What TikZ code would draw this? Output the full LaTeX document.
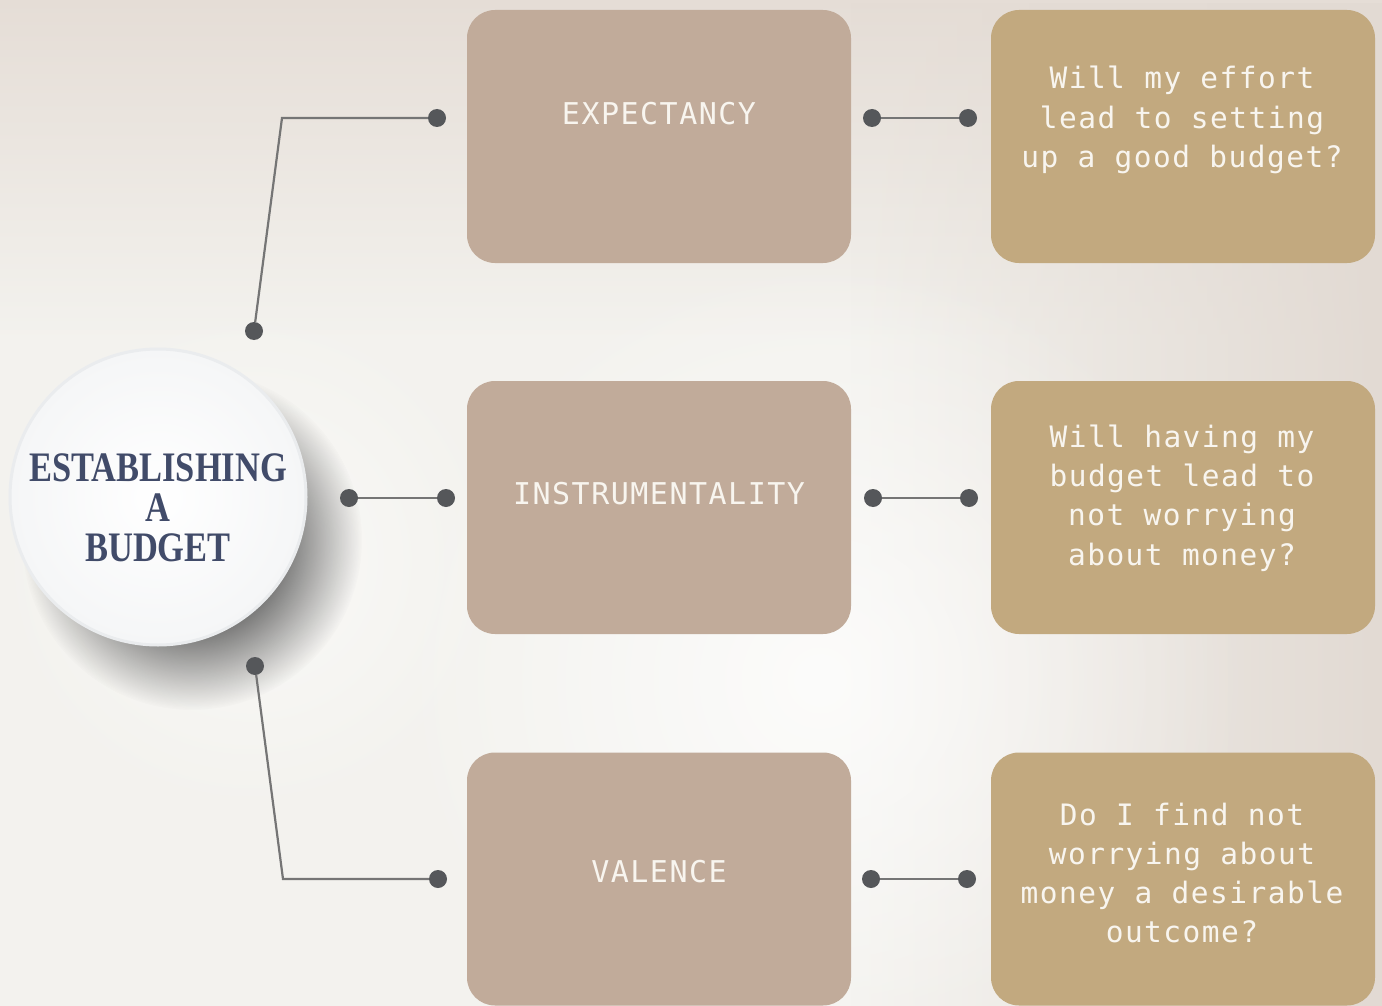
\documentclass[tikz,border=0pt]{standalone}
\usepackage{fontspec}
\setmainfont{Liberation Serif}
\newfontfamily\monof{DejaVu Sans Mono}[LetterSpace=5]
\usetikzlibrary{fadings}
\definecolor{bgtop}{HTML}{E5DDD6}
\definecolor{bgmid}{HTML}{F3F2EE}
\definecolor{bgright}{HTML}{E2DAD3}
\definecolor{midbox}{HTML}{C1AB9A}
\definecolor{rbox}{HTML}{C2A97F}
\definecolor{dotc}{HTML}{55575A}
\definecolor{linec}{HTML}{757575}
\definecolor{navy}{HTML}{414B69}
\definecolor{txtw}{HTML}{F8F5EF}
\definecolor{ringc}{HTML}{EAECEE}
\definecolor{hubin}{HTML}{FFFFFF}
\definecolor{hubout}{HTML}{F5F6F7}
\definecolor{shadowc}{HTML}{444444}
\pgfdeclareverticalshading{bgsh}{100bp}{color(0bp)=(bgmid); color(25bp)=(bgmid); color(58bp)=(bgmid); color(75bp)=(bgtop); color(100bp)=(bgtop)}
\pgfdeclareradialshading{shfadesh}{\pgfpoint{0bp}{0bp}}{color(0bp)=(white); color(14bp)=(white); color(25bp)=(black); color(50bp)=(black)}
\pgfdeclarefading{shfading}{\pgfuseshading{shfadesh}}
\tikzfading[name=fadefromleft, left color=transparent!100, right color=transparent!0]
\tikzfading[name=glowfade, inner color=transparent!0, outer color=transparent!100]
\tikzset{
  midboxst/.style={fill=midbox, rounded corners=28pt, minimum width=384pt, minimum height=253pt, inner sep=0pt},
  rboxst/.style={fill=rbox, rounded corners=28pt, minimum width=384pt, minimum height=253pt, inner sep=0pt},
  lbl/.style={text=txtw, font=\monof\fontsize{30}{39}\selectfont, inner sep=0pt},
  qtxt/.style={text=txtw, font=\monof\fontsize{29.5}{39.2}\selectfont, align=center, inner sep=0pt},
  dotst/.style={circle, fill=dotc, minimum size=18pt, inner sep=0pt},
  conn/.style={draw=linec, line width=2.2pt},
}
\begin{document}
\begin{tikzpicture}[x=1pt,y=-1pt]
\useasboundingbox (0,0) rectangle (1382,1006);
% background
\fill[shading=bgsh] (0,0) rectangle (1382,1006);
\fill[bgright, path fading=fadefromleft] (850,0) rectangle (1382,1006);
\fill[white, opacity=0.75, path fading=glowfade] (820,680) circle (430pt);
\fill[white, opacity=0.6, path fading=glowfade] (250,560) circle (260pt);
% hub shadow
\fill[shadowc, opacity=0.68, path fading=shfading] (192,540) circle (170pt);
% hub
\node[circle, minimum size=296pt, inner sep=0pt, draw=ringc, line width=3pt, inner color=hubin, outer color=hubout] (hub) at (158,497) {};
\node[text=navy, align=center, inner sep=0pt, font=\bfseries\fontsize{42}{40}\selectfont] (title) at (158,508)
  {\scalebox{0.82}[1]{ESTABLISHING}\\\scalebox{0.82}[1]{A}\\\scalebox{0.82}[1]{BUDGET}};
% boxes
\node[midboxst] (exp) at (659,136.5) {};
\node[midboxst] (ins) at (659,507.5) {};
\node[midboxst] (val) at (659,879) {};
\node[rboxst] (q1) at (1183,136.5) {};
\node[rboxst] (q2) at (1183,507.5) {};
\node[rboxst] (q3) at (1183,879) {};
% labels
\node[lbl, anchor=base] (lexp) at (659,125) {EXPECTANCY};
\node[lbl, anchor=base] (lins) at (659,504) {INSTRUMENTALITY};
\node[lbl, anchor=base] (lval) at (659,882) {VALENCE};
\node[qtxt] (t1) at (1182,120) {Will my effort\\lead to setting\\up a good budget?};
\node[qtxt] (t2) at (1182,498) {Will having my\\budget lead to\\not worrying\\about money?};
\node[qtxt] (t3) at (1182,873) {Do I find not\\worrying about\\money a desirable\\outcome?};
% dots
\node[dotst] (dTa) at (437,118) {};
\node[dotst] (dTb) at (254,331) {};
\coordinate (cT) at (282,118);
\node[dotst] (dMa) at (349,498) {};
\node[dotst] (dMb) at (446,498) {};
\node[dotst] (dBb) at (255,666) {};
\coordinate (cB) at (283,879);
\node[dotst] (dBa) at (438,879) {};
\node[dotst] (r1a) at (872,118) {};
\node[dotst] (r1b) at (968,118) {};
\node[dotst] (r2a) at (873,498) {};
\node[dotst] (r2b) at (969,498) {};
\node[dotst] (r3a) at (871,879) {};
\node[dotst] (r3b) at (967,879) {};
% connectors
\draw[conn] (dTa) -- (cT) -- (dTb);
\draw[conn] (dMa) -- (dMb);
\draw[conn] (dBb) -- (cB) -- (dBa);
\draw[conn] (r1a) -- (r1b);
\draw[conn] (r2a) -- (r2b);
\draw[conn] (r3a) -- (r3b);
\end{tikzpicture}
\end{document}
